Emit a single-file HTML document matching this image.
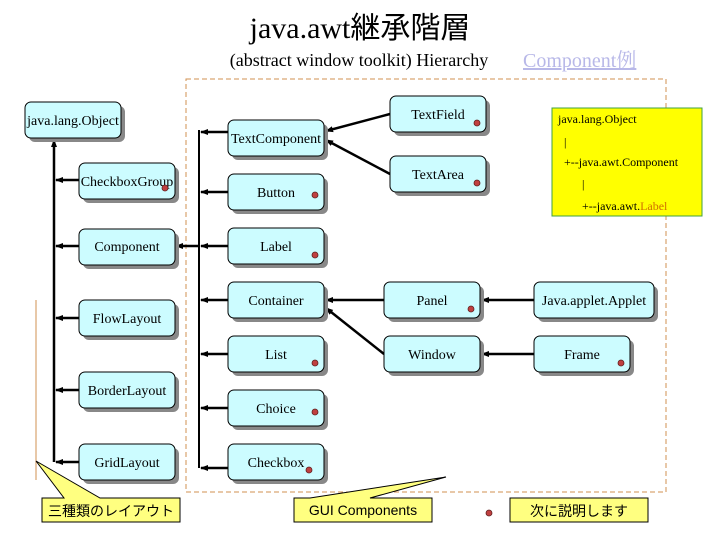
<!DOCTYPE html>
<html><head><meta charset="utf-8"><style>
body{margin:0;background:#fff;}
svg text{font-family:"Liberation Serif","Noto Serif CJK JP",serif;}
</style></head><body>
<svg width="720" height="540" viewBox="0 0 720 540" xmlns="http://www.w3.org/2000/svg">
<defs>
<marker id="a" markerWidth="8" markerHeight="8" refX="7" refY="4" orient="auto" markerUnits="userSpaceOnUse"><path d="M0,1 L8,4 L0,7 z" fill="#000"/></marker>
</defs>
<text x="360" y="38" text-anchor="middle" font-size="30" style="font-family:'Liberation Serif','Noto Sans CJK JP',serif">java.awt継承階層</text>
<text x="359" y="66" text-anchor="middle" font-size="18">(abstract window toolkit) Hierarchy</text>
<text x="523" y="67" font-size="20" fill="#b8b8e8" text-decoration="underline">Component例</text>
<rect x="186" y="79" width="480" height="413" fill="none" stroke="#d09050" stroke-dasharray="5,3"/>
<line x1="36" y1="300" x2="36" y2="480" stroke="#d09050"/>
<g stroke="#000" stroke-width="2.5" fill="none">
<line x1="54" y1="462" x2="54" y2="140" marker-end="url(#a)"/>
<line x1="79" y1="180" x2="56" y2="180" marker-end="url(#a)"/>
<line x1="79" y1="246" x2="56" y2="246" marker-end="url(#a)"/>
<line x1="79" y1="318" x2="56" y2="318" marker-end="url(#a)"/>
<line x1="79" y1="390" x2="56" y2="390" marker-end="url(#a)"/>
<line x1="79" y1="462" x2="56" y2="462" marker-end="url(#a)"/>
<line x1="199" y1="130" x2="199" y2="468" stroke-width="2"/>
<line x1="199" y1="246" x2="176" y2="246" marker-end="url(#a)"/>
<line x1="228" y1="132" x2="201" y2="132" marker-end="url(#a)"/>
<line x1="228" y1="192" x2="201" y2="192" marker-end="url(#a)"/>
<line x1="228" y1="246" x2="201" y2="246" marker-end="url(#a)"/>
<line x1="228" y1="300" x2="201" y2="300" marker-end="url(#a)"/>
<line x1="228" y1="354" x2="201" y2="354" marker-end="url(#a)"/>
<line x1="228" y1="408" x2="201" y2="408" marker-end="url(#a)"/>
<line x1="228" y1="468" x2="201" y2="468" marker-end="url(#a)"/>
<line x1="390" y1="114" x2="326" y2="131" marker-end="url(#a)"/>
<line x1="390" y1="174" x2="326" y2="140" marker-end="url(#a)"/>
<line x1="384" y1="300" x2="326" y2="300" marker-end="url(#a)"/>
<line x1="384" y1="354" x2="326" y2="308" marker-end="url(#a)"/>
<line x1="534" y1="300" x2="482" y2="300" marker-end="url(#a)"/>
<line x1="534" y1="354" x2="482" y2="354" marker-end="url(#a)"/>
</g>
<g font-size="14">
<g><rect x="29" y="106" width="96" height="36" rx="6" fill="#888"/><rect x="25" y="102" width="96" height="36" rx="6" fill="#ccfcff" stroke="#000"/><text x="73" y="125" text-anchor="middle">java.lang.Object</text></g>
<g><rect x="83" y="167" width="96" height="36" rx="6" fill="#888"/><rect x="79" y="163" width="96" height="36" rx="6" fill="#ccfcff" stroke="#000"/><text x="127" y="186" text-anchor="middle">CheckboxGroup</text></g>
<g><rect x="83" y="233" width="96" height="36" rx="6" fill="#888"/><rect x="79" y="229" width="96" height="36" rx="6" fill="#ccfcff" stroke="#000"/><text x="127" y="251" text-anchor="middle">Component</text></g>
<g><rect x="83" y="304" width="96" height="36" rx="6" fill="#888"/><rect x="79" y="300" width="96" height="36" rx="6" fill="#ccfcff" stroke="#000"/><text x="127" y="323" text-anchor="middle">FlowLayout</text></g>
<g><rect x="83" y="376" width="96" height="36" rx="6" fill="#888"/><rect x="79" y="372" width="96" height="36" rx="6" fill="#ccfcff" stroke="#000"/><text x="127" y="395" text-anchor="middle">BorderLayout</text></g>
<g><rect x="83" y="448" width="96" height="36" rx="6" fill="#888"/><rect x="79" y="444" width="96" height="36" rx="6" fill="#ccfcff" stroke="#000"/><text x="127" y="467" text-anchor="middle">GridLayout</text></g>

<g><rect x="232" y="124" width="96" height="36" rx="6" fill="#888"/><rect x="228" y="120" width="96" height="36" rx="6" fill="#ccfcff" stroke="#000"/><text x="276" y="143" text-anchor="middle">TextComponent</text></g>
<g><rect x="232" y="178" width="96" height="36" rx="6" fill="#888"/><rect x="228" y="174" width="96" height="36" rx="6" fill="#ccfcff" stroke="#000"/><text x="276" y="197" text-anchor="middle">Button</text></g>
<g><rect x="232" y="232" width="96" height="36" rx="6" fill="#888"/><rect x="228" y="228" width="96" height="36" rx="6" fill="#ccfcff" stroke="#000"/><text x="276" y="251" text-anchor="middle">Label</text></g>
<g><rect x="232" y="286" width="96" height="36" rx="6" fill="#888"/><rect x="228" y="282" width="96" height="36" rx="6" fill="#ccfcff" stroke="#000"/><text x="276" y="305" text-anchor="middle">Container</text></g>
<g><rect x="232" y="340" width="96" height="36" rx="6" fill="#888"/><rect x="228" y="336" width="96" height="36" rx="6" fill="#ccfcff" stroke="#000"/><text x="276" y="359" text-anchor="middle">List</text></g>
<g><rect x="232" y="394" width="96" height="36" rx="6" fill="#888"/><rect x="228" y="390" width="96" height="36" rx="6" fill="#ccfcff" stroke="#000"/><text x="276" y="413" text-anchor="middle">Choice</text></g>
<g><rect x="232" y="448" width="96" height="36" rx="6" fill="#888"/><rect x="228" y="444" width="96" height="36" rx="6" fill="#ccfcff" stroke="#000"/><text x="276" y="467" text-anchor="middle">Checkbox</text></g>

<g><rect x="394" y="100" width="96" height="36" rx="6" fill="#888"/><rect x="390" y="96" width="96" height="36" rx="6" fill="#ccfcff" stroke="#000"/><text x="438" y="119" text-anchor="middle">TextField</text></g>
<g><rect x="394" y="160" width="96" height="36" rx="6" fill="#888"/><rect x="390" y="156" width="96" height="36" rx="6" fill="#ccfcff" stroke="#000"/><text x="438" y="179" text-anchor="middle">TextArea</text></g>
<g><rect x="388" y="286" width="96" height="36" rx="6" fill="#888"/><rect x="384" y="282" width="96" height="36" rx="6" fill="#ccfcff" stroke="#000"/><text x="432" y="305" text-anchor="middle">Panel</text></g>
<g><rect x="388" y="340" width="96" height="36" rx="6" fill="#888"/><rect x="384" y="336" width="96" height="36" rx="6" fill="#ccfcff" stroke="#000"/><text x="432" y="359" text-anchor="middle">Window</text></g>
<g><rect x="538" y="286" width="120" height="36" rx="6" fill="#888"/><rect x="534" y="282" width="120" height="36" rx="6" fill="#ccfcff" stroke="#000"/><text x="594" y="305" text-anchor="middle">Java.applet.Applet</text></g>
<g><rect x="538" y="340" width="96" height="36" rx="6" fill="#888"/><rect x="534" y="336" width="96" height="36" rx="6" fill="#ccfcff" stroke="#000"/><text x="582" y="359" text-anchor="middle">Frame</text></g>
</g>
<g fill="#c04040" stroke="#602020" stroke-width="0.8">
<circle cx="165" cy="188" r="3"/>
<circle cx="315" cy="195" r="3"/>
<circle cx="315" cy="255" r="3"/>
<circle cx="315" cy="363" r="3"/>
<circle cx="315" cy="412" r="3"/>
<circle cx="309" cy="470" r="3"/>
<circle cx="477" cy="123" r="3"/>
<circle cx="477" cy="183" r="3"/>
<circle cx="471" cy="309" r="3"/>
<circle cx="621" cy="363" r="3"/>
<circle cx="489" cy="513" r="3"/>
</g>
<rect x="552" y="108" width="150" height="108" fill="#ffff00" stroke="#40a040"/>
<g font-size="12">
<text x="558" y="123">java.lang.Object</text>
<text x="564" y="146">|</text>
<text x="564" y="166">+--java.awt.Component</text>
<text x="582" y="188">|</text>
<text x="582" y="210">+--java.awt.<tspan fill="#d07000">Label</tspan></text>
</g>
<g fill="#ffff80" stroke="#000" stroke-width="1">
<path d="M42,498 L64,498 L36,461 L100,498 L180,498 L180,522 L42,522 Z"/>
<path d="M294,498 L310,498 L446,477 L370,498 L432,498 L432,522 L294,522 Z"/>
<rect x="510" y="498" width="138" height="24"/>
</g>
<g font-size="14" text-anchor="middle">
<text x="111" y="516" style="font-family:'Liberation Sans','Noto Sans CJK JP',sans-serif">三種類のレイアウト</text>
<text x="363" y="515" style="font-family:'Liberation Sans','Noto Sans CJK JP',sans-serif">GUI Components</text>
<text x="579" y="516" style="font-family:'Liberation Sans','Noto Sans CJK JP',sans-serif">次に説明します</text>
</g>
</svg>
</body></html>
